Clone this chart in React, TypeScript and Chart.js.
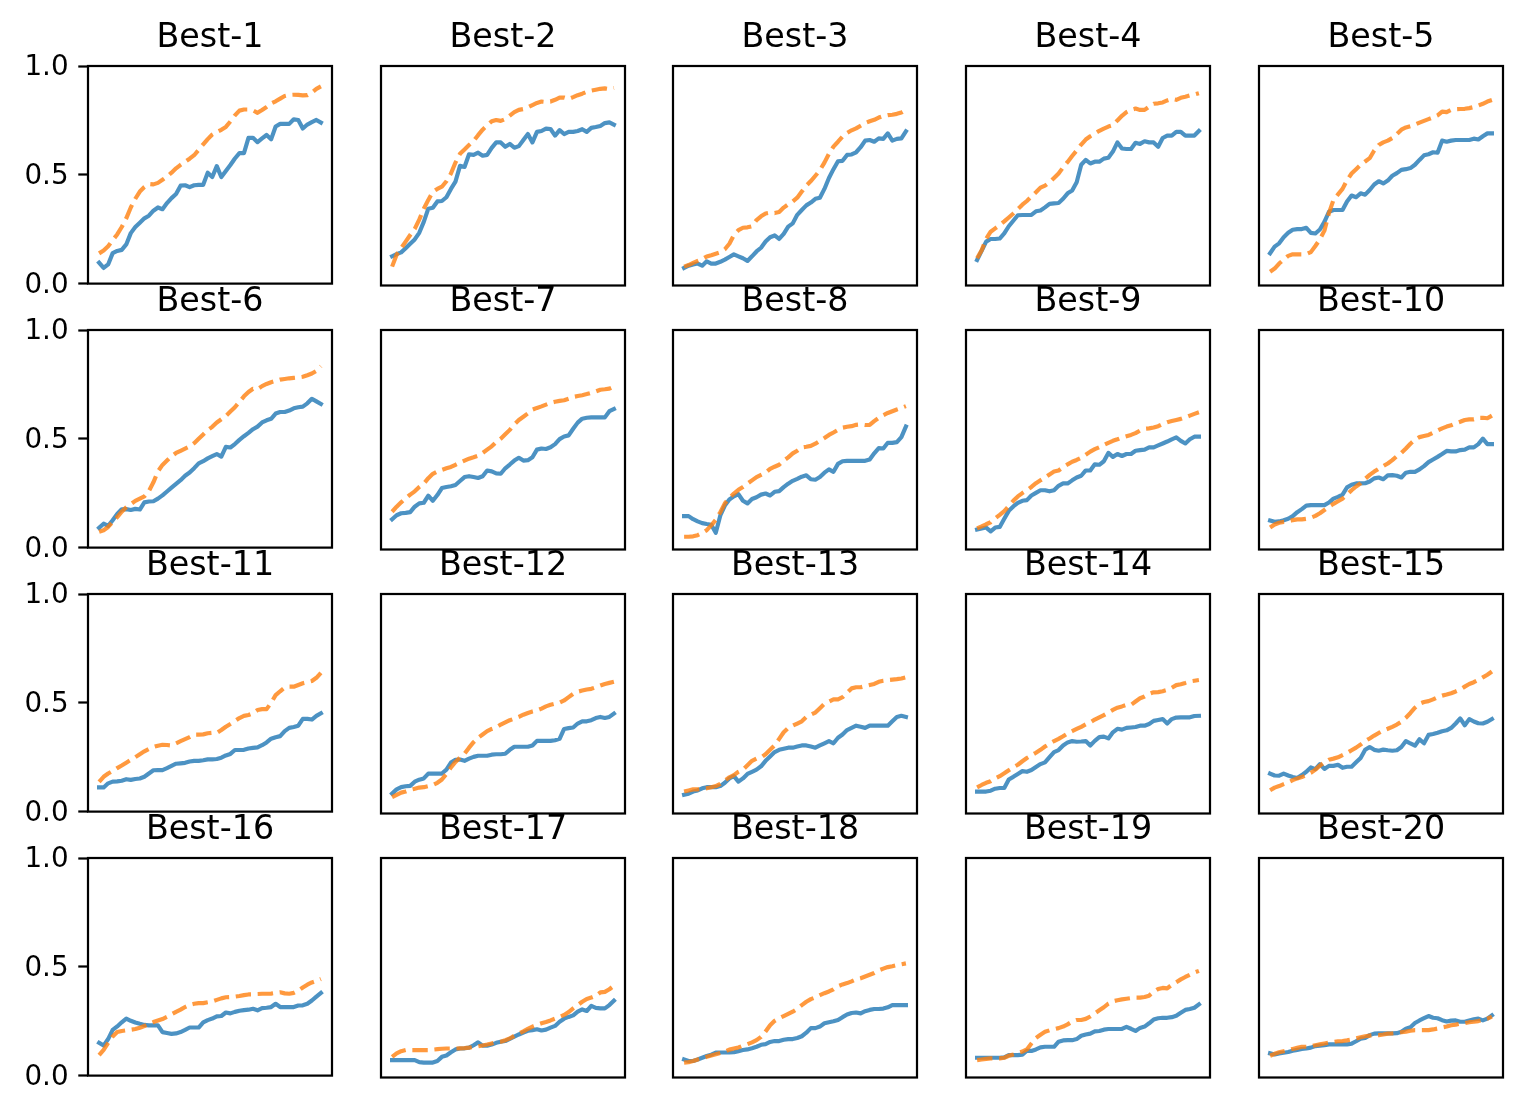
import React, { useEffect, useRef } from "react";
import { Chart, registerables } from "chart.js";

Chart.register(...registerables);

// ---------- data ----------
const panelTitles = [
  "Best-1", "Best-2", "Best-3", "Best-4", "Best-5",
  "Best-6", "Best-7", "Best-8", "Best-9", "Best-10",
  "Best-11", "Best-12", "Best-13", "Best-14", "Best-15",
  "Best-16", "Best-17", "Best-18", "Best-19", "Best-20",
];
const yTickValues = [0, 0.5, 1.0];

const blue01 = [0.096,0.072,0.088,0.14,0.15,0.155,0.18,0.232,0.26,0.28,0.30,0.312,0.335,0.35,0.342,0.37,0.393,0.412,0.45,0.452,0.443,0.452,0.454,0.454,0.51,0.49,0.54,0.49,0.518,0.545,0.575,0.6,0.6,0.67,0.67,0.65,0.667,0.683,0.663,0.722,0.734,0.734,0.734,0.755,0.752,0.713,0.731,0.742,0.752,0.74];
const orange01 = [0.139,0.152,0.172,0.2,0.226,0.26,0.3,0.35,0.39,0.423,0.444,0.458,0.456,0.463,0.477,0.492,0.51,0.53,0.546,0.56,0.574,0.59,0.615,0.64,0.664,0.685,0.697,0.707,0.72,0.745,0.773,0.795,0.8,0.8,0.796,0.785,0.798,0.812,0.828,0.838,0.85,0.862,0.867,0.868,0.867,0.865,0.866,0.878,0.895,0.906];
const blue02 = [0.133,0.143,0.151,0.17,0.19,0.21,0.24,0.29,0.35,0.354,0.383,0.385,0.402,0.44,0.473,0.545,0.54,0.598,0.595,0.605,0.591,0.595,0.627,0.652,0.652,0.632,0.645,0.628,0.635,0.663,0.69,0.652,0.7,0.704,0.715,0.713,0.683,0.708,0.69,0.7,0.7,0.704,0.712,0.7,0.718,0.722,0.727,0.74,0.743,0.733];
const orange02 = [0.086,0.14,0.17,0.2,0.23,0.258,0.3,0.35,0.39,0.427,0.44,0.45,0.475,0.51,0.56,0.6,0.62,0.64,0.658,0.685,0.71,0.73,0.748,0.754,0.75,0.758,0.774,0.79,0.8,0.804,0.812,0.822,0.832,0.838,0.836,0.838,0.846,0.856,0.856,0.85,0.858,0.867,0.874,0.882,0.888,0.892,0.896,0.898,0.895,0.9];
const blue03 = [0.08,0.09,0.096,0.1,0.09,0.11,0.1,0.1,0.108,0.118,0.13,0.142,0.133,0.124,0.112,0.133,0.155,0.172,0.2,0.22,0.228,0.212,0.235,0.268,0.283,0.322,0.344,0.365,0.378,0.395,0.4,0.44,0.49,0.53,0.566,0.568,0.595,0.597,0.607,0.63,0.66,0.663,0.655,0.67,0.668,0.693,0.66,0.668,0.67,0.702];
const orange03 = [0.086,0.093,0.103,0.112,0.12,0.132,0.138,0.145,0.152,0.165,0.19,0.23,0.252,0.263,0.265,0.27,0.298,0.315,0.328,0.332,0.33,0.335,0.355,0.37,0.383,0.4,0.428,0.455,0.476,0.5,0.525,0.56,0.6,0.633,0.655,0.678,0.695,0.707,0.716,0.728,0.74,0.748,0.755,0.765,0.772,0.776,0.778,0.782,0.788,0.8];
const blue04 = [0.116,0.158,0.2,0.212,0.212,0.214,0.237,0.27,0.295,0.32,0.321,0.321,0.322,0.338,0.342,0.356,0.372,0.374,0.376,0.395,0.42,0.433,0.47,0.55,0.572,0.556,0.564,0.564,0.578,0.582,0.61,0.652,0.624,0.622,0.622,0.65,0.645,0.657,0.652,0.652,0.632,0.672,0.683,0.683,0.7,0.7,0.683,0.683,0.683,0.704];
const orange04 = [0.124,0.16,0.213,0.245,0.26,0.275,0.292,0.31,0.328,0.348,0.368,0.385,0.405,0.425,0.446,0.455,0.47,0.49,0.51,0.538,0.563,0.59,0.615,0.642,0.665,0.68,0.692,0.705,0.715,0.724,0.73,0.752,0.773,0.79,0.8,0.806,0.8,0.8,0.815,0.828,0.83,0.834,0.843,0.85,0.846,0.855,0.86,0.866,0.87,0.876];
const blue05 = [0.147,0.177,0.192,0.22,0.24,0.254,0.257,0.257,0.263,0.24,0.237,0.255,0.29,0.336,0.344,0.344,0.344,0.383,0.41,0.402,0.42,0.414,0.435,0.46,0.475,0.465,0.478,0.5,0.512,0.527,0.53,0.535,0.55,0.572,0.593,0.598,0.607,0.605,0.66,0.655,0.66,0.663,0.663,0.663,0.663,0.669,0.665,0.68,0.693,0.693];
const orange05 = [0.063,0.077,0.1,0.118,0.135,0.142,0.142,0.142,0.143,0.152,0.18,0.21,0.25,0.33,0.39,0.415,0.44,0.48,0.51,0.53,0.55,0.565,0.58,0.615,0.64,0.652,0.66,0.672,0.69,0.71,0.72,0.726,0.733,0.742,0.75,0.758,0.766,0.775,0.792,0.79,0.8,0.803,0.804,0.805,0.808,0.813,0.82,0.828,0.838,0.845];
const blue06 = [0.091,0.11,0.1,0.126,0.155,0.176,0.177,0.173,0.178,0.175,0.208,0.212,0.213,0.225,0.24,0.258,0.276,0.293,0.31,0.33,0.345,0.365,0.387,0.397,0.41,0.42,0.43,0.418,0.463,0.46,0.476,0.495,0.512,0.527,0.544,0.556,0.575,0.585,0.592,0.616,0.623,0.623,0.63,0.64,0.645,0.648,0.663,0.684,0.672,0.66];
const orange06 = [0.073,0.08,0.095,0.118,0.14,0.165,0.185,0.2,0.215,0.225,0.235,0.26,0.3,0.35,0.38,0.4,0.42,0.435,0.445,0.455,0.465,0.48,0.5,0.52,0.54,0.555,0.575,0.59,0.605,0.625,0.645,0.67,0.695,0.715,0.73,0.728,0.742,0.752,0.76,0.766,0.772,0.775,0.778,0.78,0.782,0.785,0.792,0.8,0.812,0.833];
const blue07 = [0.138,0.156,0.165,0.167,0.17,0.195,0.21,0.213,0.245,0.222,0.248,0.28,0.285,0.288,0.294,0.312,0.33,0.334,0.33,0.326,0.334,0.36,0.356,0.347,0.345,0.37,0.387,0.405,0.418,0.405,0.407,0.42,0.455,0.46,0.458,0.466,0.48,0.503,0.515,0.52,0.55,0.578,0.596,0.6,0.602,0.602,0.602,0.602,0.63,0.64];
const orange07 = [0.172,0.195,0.215,0.233,0.25,0.265,0.285,0.3,0.325,0.345,0.355,0.363,0.37,0.376,0.386,0.396,0.405,0.414,0.42,0.427,0.44,0.455,0.47,0.49,0.505,0.525,0.545,0.57,0.59,0.605,0.62,0.637,0.645,0.652,0.66,0.668,0.673,0.677,0.68,0.687,0.695,0.699,0.703,0.708,0.714,0.72,0.728,0.73,0.733,0.742];
const blue08 = [0.152,0.152,0.138,0.128,0.12,0.116,0.113,0.076,0.155,0.2,0.228,0.242,0.252,0.222,0.21,0.23,0.238,0.25,0.255,0.246,0.263,0.266,0.284,0.3,0.313,0.322,0.332,0.338,0.32,0.318,0.33,0.35,0.365,0.354,0.39,0.402,0.404,0.404,0.404,0.404,0.404,0.41,0.438,0.462,0.46,0.486,0.486,0.489,0.512,0.56];
const orange08 = [0.058,0.058,0.06,0.065,0.075,0.088,0.11,0.135,0.17,0.21,0.235,0.255,0.272,0.285,0.3,0.315,0.33,0.34,0.35,0.367,0.377,0.386,0.405,0.42,0.438,0.45,0.465,0.468,0.472,0.482,0.495,0.508,0.522,0.533,0.545,0.555,0.559,0.562,0.568,0.57,0.567,0.568,0.585,0.6,0.612,0.622,0.63,0.638,0.645,0.653];
const blue09 = [0.091,0.096,0.1,0.083,0.1,0.103,0.14,0.176,0.196,0.212,0.222,0.225,0.246,0.258,0.27,0.27,0.265,0.27,0.29,0.301,0.301,0.315,0.328,0.336,0.36,0.36,0.388,0.386,0.402,0.44,0.422,0.435,0.426,0.435,0.435,0.45,0.453,0.455,0.465,0.465,0.474,0.483,0.492,0.502,0.511,0.495,0.483,0.502,0.514,0.514];
const orange09 = [0.096,0.105,0.115,0.124,0.142,0.158,0.175,0.198,0.222,0.242,0.257,0.27,0.285,0.302,0.315,0.328,0.342,0.355,0.36,0.375,0.388,0.4,0.408,0.418,0.432,0.446,0.457,0.466,0.476,0.486,0.495,0.502,0.51,0.516,0.522,0.53,0.542,0.55,0.552,0.556,0.562,0.572,0.58,0.585,0.59,0.595,0.602,0.61,0.618,0.625];
const blue10 = [0.132,0.126,0.128,0.133,0.14,0.152,0.17,0.184,0.2,0.202,0.202,0.202,0.202,0.214,0.232,0.24,0.25,0.283,0.295,0.301,0.301,0.302,0.31,0.324,0.328,0.32,0.338,0.339,0.336,0.328,0.35,0.354,0.354,0.365,0.38,0.398,0.41,0.422,0.435,0.449,0.447,0.447,0.453,0.455,0.465,0.465,0.48,0.505,0.48,0.48];
const orange10 = [0.1,0.114,0.122,0.126,0.128,0.134,0.137,0.137,0.14,0.145,0.153,0.165,0.18,0.195,0.208,0.22,0.232,0.25,0.27,0.287,0.302,0.322,0.34,0.355,0.368,0.38,0.392,0.407,0.425,0.44,0.46,0.482,0.5,0.512,0.517,0.522,0.532,0.542,0.552,0.56,0.566,0.575,0.582,0.59,0.593,0.593,0.6,0.6,0.598,0.61];
const blue11 = [0.111,0.111,0.13,0.138,0.139,0.142,0.149,0.146,0.15,0.152,0.16,0.175,0.19,0.191,0.191,0.2,0.21,0.22,0.222,0.224,0.23,0.233,0.233,0.236,0.24,0.24,0.242,0.248,0.258,0.265,0.283,0.283,0.284,0.29,0.293,0.295,0.305,0.318,0.335,0.342,0.347,0.37,0.385,0.389,0.395,0.426,0.426,0.423,0.44,0.452];
const orange11 = [0.137,0.16,0.175,0.187,0.2,0.212,0.225,0.238,0.25,0.264,0.277,0.288,0.297,0.303,0.307,0.306,0.304,0.314,0.324,0.333,0.342,0.354,0.354,0.355,0.36,0.362,0.362,0.375,0.39,0.403,0.416,0.43,0.44,0.444,0.452,0.467,0.471,0.471,0.5,0.535,0.553,0.57,0.574,0.574,0.582,0.59,0.595,0.6,0.615,0.638];
const blue12 = [0.091,0.11,0.12,0.124,0.126,0.145,0.154,0.16,0.182,0.182,0.182,0.182,0.2,0.232,0.245,0.246,0.24,0.25,0.258,0.263,0.263,0.263,0.268,0.27,0.27,0.272,0.29,0.304,0.304,0.304,0.304,0.31,0.331,0.331,0.331,0.331,0.334,0.34,0.385,0.389,0.392,0.41,0.42,0.42,0.425,0.435,0.44,0.435,0.44,0.455];
const orange12 = [0.075,0.085,0.095,0.1,0.108,0.113,0.118,0.12,0.125,0.13,0.14,0.155,0.18,0.21,0.235,0.255,0.272,0.3,0.325,0.345,0.36,0.375,0.385,0.392,0.405,0.415,0.425,0.432,0.44,0.45,0.458,0.465,0.47,0.478,0.488,0.495,0.5,0.505,0.515,0.53,0.545,0.555,0.56,0.565,0.568,0.575,0.583,0.59,0.595,0.6];
const blue13 = [0.085,0.09,0.1,0.105,0.115,0.12,0.12,0.12,0.125,0.14,0.16,0.17,0.145,0.16,0.18,0.19,0.2,0.215,0.24,0.26,0.28,0.29,0.295,0.3,0.3,0.305,0.31,0.31,0.305,0.3,0.31,0.32,0.33,0.32,0.345,0.36,0.38,0.39,0.4,0.395,0.39,0.4,0.4,0.4,0.4,0.4,0.42,0.44,0.445,0.44];
const orange13 = [0.1,0.105,0.11,0.11,0.112,0.115,0.12,0.125,0.135,0.15,0.165,0.175,0.19,0.2,0.22,0.24,0.25,0.255,0.27,0.29,0.31,0.34,0.37,0.39,0.4,0.41,0.42,0.44,0.45,0.46,0.48,0.5,0.51,0.52,0.52,0.53,0.55,0.57,0.575,0.575,0.58,0.585,0.59,0.6,0.605,0.608,0.61,0.612,0.615,0.62];
const blue14 = [0.1,0.1,0.1,0.104,0.113,0.116,0.116,0.155,0.167,0.18,0.193,0.19,0.198,0.212,0.225,0.233,0.257,0.28,0.289,0.31,0.324,0.33,0.327,0.328,0.33,0.31,0.331,0.348,0.35,0.342,0.37,0.386,0.382,0.39,0.392,0.394,0.4,0.4,0.408,0.422,0.426,0.43,0.41,0.43,0.437,0.438,0.438,0.438,0.444,0.445];
const orange14 = [0.119,0.13,0.14,0.147,0.16,0.17,0.183,0.197,0.21,0.222,0.238,0.253,0.265,0.277,0.29,0.305,0.318,0.33,0.34,0.352,0.365,0.375,0.385,0.395,0.406,0.415,0.428,0.438,0.448,0.46,0.472,0.482,0.488,0.495,0.495,0.51,0.525,0.533,0.545,0.552,0.553,0.557,0.563,0.573,0.585,0.589,0.595,0.602,0.605,0.608];
const blue15 = [0.182,0.173,0.172,0.182,0.173,0.166,0.162,0.175,0.19,0.21,0.202,0.225,0.203,0.217,0.217,0.222,0.208,0.213,0.213,0.233,0.253,0.29,0.303,0.29,0.286,0.291,0.288,0.286,0.288,0.303,0.33,0.319,0.309,0.338,0.32,0.358,0.362,0.368,0.375,0.379,0.39,0.41,0.433,0.402,0.43,0.419,0.411,0.41,0.418,0.43];
const orange15 = [0.106,0.118,0.125,0.134,0.142,0.152,0.16,0.166,0.175,0.185,0.2,0.218,0.233,0.245,0.25,0.256,0.266,0.276,0.288,0.3,0.314,0.33,0.342,0.355,0.367,0.378,0.386,0.395,0.405,0.418,0.436,0.458,0.482,0.5,0.508,0.512,0.52,0.53,0.537,0.542,0.548,0.556,0.565,0.578,0.59,0.598,0.608,0.62,0.632,0.647];
const blue16 = [0.151,0.138,0.168,0.21,0.226,0.245,0.262,0.252,0.244,0.238,0.233,0.231,0.231,0.231,0.2,0.196,0.192,0.194,0.2,0.21,0.221,0.221,0.221,0.245,0.255,0.262,0.272,0.274,0.29,0.286,0.293,0.298,0.301,0.303,0.307,0.3,0.31,0.312,0.315,0.33,0.315,0.315,0.315,0.315,0.322,0.323,0.33,0.345,0.363,0.38];
const orange16 = [0.094,0.118,0.15,0.18,0.2,0.205,0.208,0.211,0.214,0.22,0.228,0.237,0.246,0.253,0.26,0.27,0.282,0.293,0.303,0.315,0.325,0.33,0.333,0.333,0.337,0.341,0.348,0.355,0.36,0.361,0.363,0.366,0.37,0.373,0.373,0.375,0.376,0.376,0.377,0.38,0.383,0.378,0.376,0.38,0.39,0.405,0.418,0.428,0.435,0.444];
const blue17 = [0.079,0.079,0.079,0.079,0.079,0.079,0.07,0.068,0.068,0.068,0.075,0.094,0.1,0.115,0.128,0.132,0.133,0.136,0.147,0.16,0.145,0.145,0.15,0.158,0.163,0.166,0.176,0.186,0.196,0.205,0.213,0.216,0.22,0.214,0.218,0.227,0.235,0.254,0.268,0.276,0.283,0.3,0.31,0.303,0.326,0.317,0.315,0.315,0.33,0.35];
const orange17 = [0.094,0.11,0.12,0.125,0.125,0.125,0.125,0.125,0.125,0.127,0.129,0.131,0.132,0.132,0.132,0.133,0.134,0.136,0.139,0.142,0.146,0.15,0.155,0.16,0.163,0.17,0.178,0.19,0.2,0.21,0.222,0.232,0.24,0.247,0.253,0.26,0.268,0.276,0.285,0.298,0.315,0.33,0.345,0.358,0.364,0.372,0.388,0.39,0.402,0.418];
const blue18 = [0.082,0.075,0.075,0.082,0.09,0.098,0.104,0.113,0.114,0.114,0.114,0.115,0.12,0.125,0.128,0.133,0.14,0.149,0.152,0.162,0.166,0.166,0.172,0.175,0.175,0.18,0.188,0.204,0.225,0.225,0.232,0.247,0.252,0.256,0.262,0.275,0.287,0.294,0.296,0.292,0.302,0.308,0.312,0.312,0.314,0.32,0.33,0.33,0.33,0.33];
const orange18 = [0.068,0.07,0.075,0.082,0.088,0.094,0.1,0.106,0.112,0.118,0.127,0.132,0.137,0.145,0.152,0.16,0.17,0.185,0.21,0.238,0.258,0.27,0.28,0.29,0.3,0.313,0.33,0.345,0.357,0.365,0.375,0.384,0.392,0.402,0.416,0.424,0.43,0.438,0.447,0.452,0.46,0.468,0.476,0.488,0.496,0.503,0.507,0.512,0.516,0.52];
const blue19 = [0.09,0.09,0.09,0.09,0.09,0.09,0.092,0.102,0.102,0.102,0.104,0.122,0.121,0.128,0.137,0.14,0.14,0.14,0.163,0.169,0.17,0.17,0.175,0.19,0.196,0.2,0.21,0.212,0.218,0.221,0.221,0.221,0.221,0.231,0.222,0.212,0.226,0.232,0.247,0.264,0.27,0.272,0.272,0.275,0.281,0.295,0.308,0.312,0.318,0.333];
const orange19 = [0.079,0.082,0.085,0.087,0.087,0.087,0.09,0.099,0.105,0.112,0.118,0.128,0.155,0.18,0.195,0.208,0.215,0.22,0.225,0.232,0.242,0.255,0.262,0.262,0.267,0.278,0.292,0.306,0.32,0.337,0.347,0.352,0.356,0.359,0.362,0.364,0.364,0.367,0.373,0.39,0.403,0.408,0.406,0.422,0.434,0.447,0.458,0.468,0.478,0.486];
const blue20 = [0.11,0.105,0.11,0.113,0.116,0.122,0.126,0.13,0.132,0.136,0.143,0.145,0.147,0.151,0.151,0.151,0.151,0.151,0.154,0.165,0.177,0.18,0.193,0.2,0.201,0.201,0.201,0.201,0.202,0.208,0.222,0.229,0.248,0.26,0.27,0.28,0.272,0.27,0.261,0.255,0.259,0.26,0.254,0.254,0.26,0.265,0.268,0.26,0.268,0.283];
const orange20 = [0.099,0.108,0.115,0.12,0.125,0.13,0.135,0.14,0.14,0.142,0.147,0.151,0.155,0.159,0.162,0.165,0.166,0.169,0.173,0.178,0.183,0.188,0.191,0.193,0.193,0.196,0.2,0.201,0.203,0.206,0.209,0.213,0.216,0.216,0.216,0.216,0.219,0.223,0.228,0.232,0.238,0.241,0.245,0.248,0.252,0.254,0.257,0.262,0.268,0.277];

const blueSeries = [blue01, blue02, blue03, blue04, blue05, blue06, blue07, blue08, blue09, blue10,
  blue11, blue12, blue13, blue14, blue15, blue16, blue17, blue18, blue19, blue20];
const orangeSeries = [orange01, orange02, orange03, orange04, orange05, orange06, orange07, orange08, orange09, orange10,
  orange11, orange12, orange13, orange14, orange15, orange16, orange17, orange18, orange19, orange20];

// ---------- layout / style ----------
const COL_LEFT = [88, 381, 673, 966, 1259];
const ROW_TOP = [66, 330, 594, 858];
const AX_W = 244;
const AX_H = 219.5;
const LEFT_M = 88;
const TOP_M = 62;
const RIGHT_M = 4;
const BOTTOM_M = 24.5;
const CANVAS_W = LEFT_M + AX_W + RIGHT_M;
const CANVAS_H = Math.round(TOP_M + AX_H + BOTTOM_M);
const FONT = "DejaVu Sans";
const DPI = 200 / 72;
const LW = 1.5 * DPI;
const BLUE = "rgba(31,119,180,0.8)";
const ORANGE = "rgba(255,127,14,0.8)";

const framePlugin = {
  id: "frame",
  afterDraw(chart: any) {
    const { ctx, chartArea: a } = chart;
    ctx.save();
    ctx.strokeStyle = "#000";
    ctx.lineWidth = 0.8 * DPI;
    ctx.strokeRect(a.left, a.top, a.right - a.left, a.bottom - a.top);
    ctx.restore();
  },
};

function Panel({ idx }: { idx: number }) {
  const ref = useRef<HTMLCanvasElement>(null);
  const col = idx % 5;
  const row = Math.floor(idx / 5);
  useEffect(() => {
    const blue = blueSeries[idx];
    const orange = orangeSeries[idx];
    const n = blue.length;
    const margin = 0.05 * (n - 1);
    const showY = col === 0;
    const chart = new Chart(ref.current as HTMLCanvasElement, {
      type: "line",
      data: {
        datasets: [
          {
            data: blue.map((v, i) => ({ x: i, y: v })),
            borderColor: BLUE,
            borderWidth: LW,
            pointRadius: 0,
            borderJoinStyle: "round",
            borderCapStyle: "square",
            tension: 0,
            order: 1,
          },
          {
            data: orange.map((v, i) => ({ x: i, y: v })),
            borderColor: ORANGE,
            borderWidth: LW,
            borderDash: [3.7 * 1.5 * DPI, 1.6 * 1.5 * DPI],
            pointRadius: 0,
            borderJoinStyle: "round",
            borderCapStyle: "butt",
            tension: 0,
            order: 0,
          },
        ],
      },
      options: {
        animation: false,
        responsive: false,
        events: [],
        layout: { padding: { left: 0, top: 0, right: RIGHT_M, bottom: CANVAS_H - TOP_M - AX_H } },
        plugins: {
          legend: { display: false },
          tooltip: { enabled: false },
          title: {
            display: true,
            fullSize: false,
            text: panelTitles[idx],
            color: "#000",
            font: { family: FONT, size: 12 * DPI, weight: "normal", lineHeight: 1.2 },
            padding: { top: TOP_M - 7.2 - 12 * DPI * 1.2, bottom: 7.2 },
          },
        },
        scales: {
          x: { type: "linear", min: -margin, max: n - 1 + margin, display: false },
          y: {
            type: "linear",
            min: 0,
            max: 1,
            afterFit: (s: any) => { s.width = LEFT_M; },
            afterBuildTicks: (s: any) => { s.ticks = yTickValues.map((v) => ({ value: v })); },
            ticks: {
              display: showY,
              color: "#000",
              padding: 3.5 * DPI,
              labelOffset: 2,
              font: { family: FONT, size: 10 * DPI },
              callback: (v: any) => Number(v).toFixed(1),
            },
            grid: {
              display: showY,
              drawOnChartArea: false,
              drawTicks: true,
              tickLength: 3.5 * DPI,
              tickColor: "#000",
              tickWidth: 0.8 * DPI,
            },
            border: { display: false },
          },
        },
      },
      plugins: [framePlugin],
    } as any);
    return () => chart.destroy();
  }, [idx, col]);
  return (
    <canvas
      ref={ref}
      width={CANVAS_W}
      height={CANVAS_H}
      style={{
        position: "absolute",
        left: COL_LEFT[col] - LEFT_M,
        top: ROW_TOP[row] - TOP_M,
        width: CANVAS_W,
        height: CANVAS_H,
      }}
    />
  );
}

export default function App() {
  return (
    <div style={{ position: "absolute", left: 0, top: 0, width: 1520, height: 1106, background: "#fff" }}>
      {panelTitles.map((_, i) => (
        <Panel key={i} idx={i} />
      ))}
    </div>
  );
}
